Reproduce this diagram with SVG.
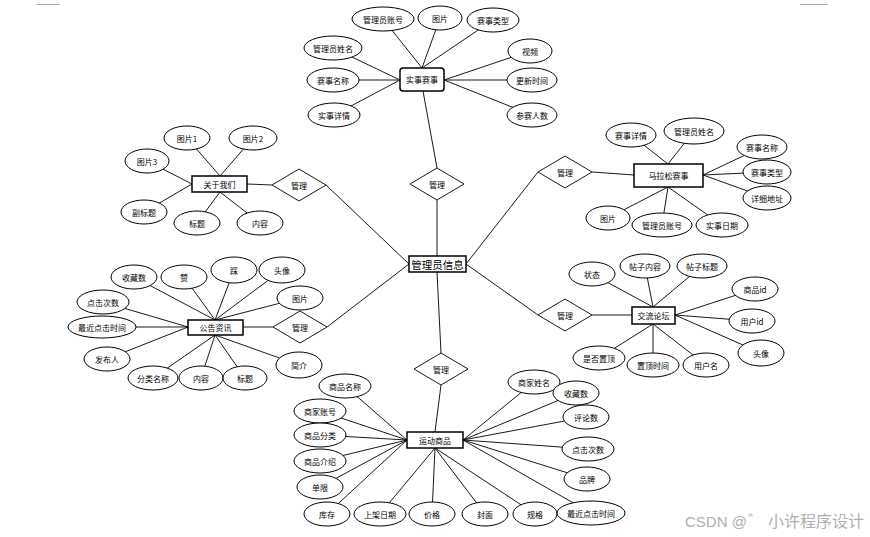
<svg xmlns="http://www.w3.org/2000/svg" width="870" height="537" viewBox="0 0 870 537">
<style>
.bg{fill:#fff}
.ln{stroke:#000;stroke-width:0.9;fill:none}
.e{fill:#fff;stroke:#000;stroke-width:1}
.r{fill:#fff;stroke:#000;stroke-width:1.5}
.d{fill:#fff;stroke:#000;stroke-width:0.9}
.t{font-family:"Noto Sans CJK SC","Noto Sans",sans-serif;font-size:8px;text-anchor:middle;dominant-baseline:central;fill:#000}
.big{font-size:10.5px}
.mk{stroke:#aaa;stroke-width:1}
.wm{font-family:"Liberation Sans","Noto Sans CJK SC",sans-serif;font-size:15px;fill:#b0b0b0}
.wc{font-family:"Noto Sans CJK SC",sans-serif;font-size:16px;fill:#b0b0b0}
</style>
<rect class="bg" x="0" y="0" width="870" height="537"/>
<line class="mk" x1="37" y1="4.5" x2="60" y2="4.5"/>
<line class="mk" x1="800" y1="4.5" x2="828" y2="4.5"/>

<g id="connectors">
<line class="ln" x1="423" y1="91" x2="437" y2="168"/>
<line class="ln" x1="437" y1="200" x2="437" y2="256"/>
<line class="ln" x1="409" y1="264" x2="326" y2="185"/>
<line class="ln" x1="272" y1="185" x2="247" y2="184"/>
<line class="ln" x1="409" y1="264" x2="327" y2="327"/>
<line class="ln" x1="273" y1="327" x2="243" y2="327"/>
<line class="ln" x1="466" y1="264" x2="538" y2="172"/>
<line class="ln" x1="592" y1="172" x2="634" y2="175"/>
<line class="ln" x1="466" y1="264" x2="538" y2="315"/>
<line class="ln" x1="592" y1="315" x2="632" y2="315"/>
<line class="ln" x1="437" y1="272" x2="441" y2="353"/>
<line class="ln" x1="441" y1="385" x2="435" y2="432"/>
<line class="ln" x1="422" y1="68" x2="383" y2="19"/>
<line class="ln" x1="422" y1="68" x2="440" y2="18"/>
<line class="ln" x1="422" y1="68" x2="493" y2="20"/>
<line class="ln" x1="400" y1="80" x2="333" y2="48"/>
<line class="ln" x1="400" y1="80" x2="333" y2="80"/>
<line class="ln" x1="400" y1="80" x2="334" y2="115"/>
<line class="ln" x1="444" y1="80" x2="530" y2="51"/>
<line class="ln" x1="444" y1="80" x2="532" y2="80"/>
<line class="ln" x1="444" y1="80" x2="532" y2="115"/>
<line class="ln" x1="220" y1="176" x2="187" y2="138"/>
<line class="ln" x1="220" y1="176" x2="253" y2="138"/>
<line class="ln" x1="192" y1="184" x2="147" y2="161"/>
<line class="ln" x1="192" y1="184" x2="144" y2="212"/>
<line class="ln" x1="220" y1="192" x2="197" y2="223"/>
<line class="ln" x1="220" y1="192" x2="260" y2="223"/>
<line class="ln" x1="668" y1="164" x2="631" y2="135"/>
<line class="ln" x1="668" y1="164" x2="694" y2="131"/>
<line class="ln" x1="703" y1="175" x2="762" y2="147"/>
<line class="ln" x1="703" y1="175" x2="767" y2="172"/>
<line class="ln" x1="703" y1="175" x2="767" y2="198"/>
<line class="ln" x1="668" y1="187" x2="608" y2="218"/>
<line class="ln" x1="668" y1="187" x2="662" y2="225"/>
<line class="ln" x1="668" y1="187" x2="722" y2="225"/>
<line class="ln" x1="215" y1="320" x2="134" y2="277"/>
<line class="ln" x1="215" y1="320" x2="184" y2="277"/>
<line class="ln" x1="215" y1="320" x2="234" y2="270"/>
<line class="ln" x1="215" y1="320" x2="282" y2="270"/>
<line class="ln" x1="215" y1="320" x2="300" y2="298"/>
<line class="ln" x1="188" y1="327" x2="103" y2="302"/>
<line class="ln" x1="188" y1="327" x2="102" y2="327"/>
<line class="ln" x1="188" y1="327" x2="107" y2="359"/>
<line class="ln" x1="215" y1="335" x2="153" y2="378"/>
<line class="ln" x1="215" y1="335" x2="201" y2="378"/>
<line class="ln" x1="215" y1="335" x2="245" y2="378"/>
<line class="ln" x1="215" y1="335" x2="299" y2="365"/>
<line class="ln" x1="653" y1="307" x2="592" y2="274"/>
<line class="ln" x1="653" y1="307" x2="645" y2="266"/>
<line class="ln" x1="653" y1="307" x2="702" y2="266"/>
<line class="ln" x1="675" y1="315" x2="755" y2="289"/>
<line class="ln" x1="675" y1="315" x2="752" y2="321"/>
<line class="ln" x1="675" y1="315" x2="761" y2="353"/>
<line class="ln" x1="653" y1="324" x2="599" y2="358"/>
<line class="ln" x1="653" y1="324" x2="653" y2="365"/>
<line class="ln" x1="653" y1="324" x2="706" y2="365"/>
<line class="ln" x1="407" y1="440" x2="345" y2="386"/>
<line class="ln" x1="407" y1="440" x2="320" y2="411"/>
<line class="ln" x1="407" y1="440" x2="320" y2="435"/>
<line class="ln" x1="407" y1="440" x2="320" y2="461"/>
<line class="ln" x1="407" y1="440" x2="320" y2="487"/>
<line class="ln" x1="407" y1="440" x2="327" y2="514"/>
<line class="ln" x1="435" y1="448" x2="380" y2="514"/>
<line class="ln" x1="435" y1="448" x2="432" y2="514"/>
<line class="ln" x1="435" y1="448" x2="485" y2="514"/>
<line class="ln" x1="435" y1="448" x2="535" y2="514"/>
<line class="ln" x1="463" y1="440" x2="534" y2="382"/>
<line class="ln" x1="463" y1="440" x2="576" y2="393"/>
<line class="ln" x1="463" y1="440" x2="586" y2="417"/>
<line class="ln" x1="463" y1="440" x2="588" y2="449"/>
<line class="ln" x1="463" y1="440" x2="587" y2="479"/>
<line class="ln" x1="463" y1="440" x2="591" y2="513"/>
</g>

<g id="admin"><rect class="r" x="409" y="256" width="57" height="16"/><text class="t big" x="437.5" y="264">管理员信息</text></g>

<g id="rel1"><polygon class="d" points="410,184 437,168 464,184 437,200"/><text class="t" x="437" y="184">管理</text></g>
<g id="rel2"><polygon class="d" points="272,185 299,169 326,185 299,201"/><text class="t" x="299" y="185">管理</text></g>
<g id="rel3"><polygon class="d" points="538,172 565,156 592,172 565,188"/><text class="t" x="565" y="172">管理</text></g>
<g id="rel4"><polygon class="d" points="273,327 300,311 327,327 300,343"/><text class="t" x="300" y="327">管理</text></g>
<g id="rel5"><polygon class="d" points="538,315 565,299 592,315 565,331"/><text class="t" x="565" y="315">管理</text></g>
<g id="rel6"><polygon class="d" points="414,369 441,353 468,369 441,385"/><text class="t" x="441" y="369">管理</text></g>

<g id="e1"><rect class="r" x="400" y="68" width="44" height="23" rx="3"/><text class="t" x="422" y="79.5">实事赛事</text></g>
<g id="e2"><rect class="r" x="192" y="176" width="55" height="16"/><text class="t" x="219.5" y="184">关于我们</text></g>
<g id="e3"><rect class="r" x="634" y="164" width="69" height="23"/><text class="t" x="668.5" y="175.5">马拉松赛事</text></g>
<g id="e4"><rect class="r" x="188" y="320" width="55" height="15"/><text class="t" x="215.5" y="327.5">公告资讯</text></g>
<g id="e5"><rect class="r" x="632" y="307" width="43" height="17"/><text class="t" x="653.5" y="315.5">交流论坛</text></g>
<g id="e6"><rect class="r" x="407" y="432" width="56" height="16"/><text class="t" x="435" y="440">运动商品</text></g>

<g id="a1_1"><ellipse class="e" cx="383" cy="19" rx="31" ry="12"/><text class="t" x="383" y="19">管理员账号</text></g>
<g id="a1_2"><ellipse class="e" cx="440" cy="18" rx="22" ry="12"/><text class="t" x="440" y="18">图片</text></g>
<g id="a1_3"><ellipse class="e" cx="493" cy="20" rx="26" ry="12"/><text class="t" x="493" y="20">赛事类型</text></g>
<g id="a1_4"><ellipse class="e" cx="333" cy="48" rx="29" ry="12"/><text class="t" x="333" y="48">管理员姓名</text></g>
<g id="a1_5"><ellipse class="e" cx="333" cy="80" rx="26" ry="12"/><text class="t" x="333" y="80">赛事名称</text></g>
<g id="a1_6"><ellipse class="e" cx="334" cy="115" rx="26" ry="12"/><text class="t" x="334" y="115">实事详情</text></g>
<g id="a1_7"><ellipse class="e" cx="530" cy="51" rx="22" ry="12"/><text class="t" x="530" y="51">视频</text></g>
<g id="a1_8"><ellipse class="e" cx="532" cy="80" rx="25" ry="12"/><text class="t" x="532" y="80">更新时间</text></g>
<g id="a1_9"><ellipse class="e" cx="532" cy="115" rx="25" ry="12"/><text class="t" x="532" y="115">参赛人数</text></g>

<g id="a2_1"><ellipse class="e" cx="187" cy="138" rx="23" ry="12"/><text class="t" x="187" y="138">图片1</text></g>
<g id="a2_2"><ellipse class="e" cx="253" cy="138" rx="24" ry="12"/><text class="t" x="253" y="138">图片2</text></g>
<g id="a2_3"><ellipse class="e" cx="147" cy="161" rx="22" ry="12"/><text class="t" x="147" y="161">图片3</text></g>
<g id="a2_4"><ellipse class="e" cx="144" cy="212" rx="23" ry="12"/><text class="t" x="144" y="212">副标题</text></g>
<g id="a2_5"><ellipse class="e" cx="197" cy="223" rx="23" ry="12"/><text class="t" x="197" y="223">标题</text></g>
<g id="a2_6"><ellipse class="e" cx="260" cy="223" rx="23" ry="12"/><text class="t" x="260" y="223">内容</text></g>

<g id="a3_1"><ellipse class="e" cx="631" cy="135" rx="25" ry="12"/><text class="t" x="631" y="135">赛事详情</text></g>
<g id="a3_2"><ellipse class="e" cx="694" cy="131" rx="30" ry="13"/><text class="t" x="694" y="131">管理员姓名</text></g>
<g id="a3_3"><ellipse class="e" cx="762" cy="147" rx="25" ry="12"/><text class="t" x="762" y="147">赛事名称</text></g>
<g id="a3_4"><ellipse class="e" cx="767" cy="172" rx="24" ry="12"/><text class="t" x="767" y="172">赛事类型</text></g>
<g id="a3_5"><ellipse class="e" cx="767" cy="198" rx="24" ry="12"/><text class="t" x="767" y="198">详细地址</text></g>
<g id="a3_6"><ellipse class="e" cx="608" cy="218" rx="22" ry="12"/><text class="t" x="608" y="218">图片</text></g>
<g id="a3_7"><ellipse class="e" cx="662" cy="225" rx="30" ry="12"/><text class="t" x="662" y="225">管理员账号</text></g>
<g id="a3_8"><ellipse class="e" cx="722" cy="225" rx="26" ry="12"/><text class="t" x="722" y="225">实事日期</text></g>

<g id="a4_1"><ellipse class="e" cx="134" cy="277" rx="23" ry="12"/><text class="t" x="134" y="277">收藏数</text></g>
<g id="a4_2"><ellipse class="e" cx="184" cy="277" rx="23" ry="12"/><text class="t" x="184" y="277">赞</text></g>
<g id="a4_3"><ellipse class="e" cx="234" cy="270" rx="23" ry="13"/><text class="t" x="234" y="270">踩</text></g>
<g id="a4_4"><ellipse class="e" cx="282" cy="270" rx="23" ry="13"/><text class="t" x="282" y="270">头像</text></g>
<g id="a4_5"><ellipse class="e" cx="300" cy="298" rx="23" ry="12"/><text class="t" x="300" y="298">图片</text></g>
<g id="a4_6"><ellipse class="e" cx="103" cy="302" rx="26" ry="12"/><text class="t" x="103" y="302">点击次数</text></g>
<g id="a4_7"><ellipse class="e" cx="102" cy="327" rx="34" ry="11"/><text class="t" x="102" y="327">最近点击时间</text></g>
<g id="a4_8"><ellipse class="e" cx="107" cy="359" rx="23" ry="12"/><text class="t" x="107" y="359">发布人</text></g>
<g id="a4_9"><ellipse class="e" cx="153" cy="378" rx="25" ry="12"/><text class="t" x="153" y="378">分类名称</text></g>
<g id="a4_10"><ellipse class="e" cx="201" cy="378" rx="22" ry="12"/><text class="t" x="201" y="378">内容</text></g>
<g id="a4_11"><ellipse class="e" cx="245" cy="378" rx="22" ry="12"/><text class="t" x="245" y="378">标题</text></g>
<g id="a4_12"><ellipse class="e" cx="299" cy="365" rx="23" ry="13"/><text class="t" x="299" y="365">简介</text></g>

<g id="a5_1"><ellipse class="e" cx="592" cy="274" rx="23" ry="12"/><text class="t" x="592" y="274">状态</text></g>
<g id="a5_2"><ellipse class="e" cx="645" cy="266" rx="25" ry="12"/><text class="t" x="645" y="266">帖子内容</text></g>
<g id="a5_3"><ellipse class="e" cx="702" cy="266" rx="25" ry="12"/><text class="t" x="702" y="266">帖子标题</text></g>
<g id="a5_4"><ellipse class="e" cx="755" cy="289" rx="23" ry="12"/><text class="t" x="755" y="289">商品id</text></g>
<g id="a5_5"><ellipse class="e" cx="752" cy="321" rx="23" ry="12"/><text class="t" x="752" y="321">用户id</text></g>
<g id="a5_6"><ellipse class="e" cx="761" cy="353" rx="23" ry="13"/><text class="t" x="761" y="353">头像</text></g>
<g id="a5_7"><ellipse class="e" cx="599" cy="358" rx="26" ry="12"/><text class="t" x="599" y="358">是否置顶</text></g>
<g id="a5_8"><ellipse class="e" cx="653" cy="365" rx="26" ry="12"/><text class="t" x="653" y="365">置顶时间</text></g>
<g id="a5_9"><ellipse class="e" cx="706" cy="365" rx="23" ry="12"/><text class="t" x="706" y="365">用户名</text></g>

<g id="a6_1"><ellipse class="e" cx="345" cy="386" rx="26" ry="12"/><text class="t" x="345" y="386">商品名称</text></g>
<g id="a6_2"><ellipse class="e" cx="320" cy="411" rx="26" ry="12"/><text class="t" x="320" y="411">商家账号</text></g>
<g id="a6_3"><ellipse class="e" cx="320" cy="435" rx="26" ry="12"/><text class="t" x="320" y="435">商品分类</text></g>
<g id="a6_4"><ellipse class="e" cx="320" cy="461" rx="26" ry="12"/><text class="t" x="320" y="461">商品介绍</text></g>
<g id="a6_5"><ellipse class="e" cx="320" cy="487" rx="23" ry="12"/><text class="t" x="320" y="487">单限</text></g>
<g id="a6_6"><ellipse class="e" cx="327" cy="514" rx="23" ry="12"/><text class="t" x="327" y="514">库存</text></g>
<g id="a6_7"><ellipse class="e" cx="380" cy="514" rx="26" ry="12"/><text class="t" x="380" y="514">上架日期</text></g>
<g id="a6_8"><ellipse class="e" cx="432" cy="514" rx="23" ry="12"/><text class="t" x="432" y="514">价格</text></g>
<g id="a6_9"><ellipse class="e" cx="485" cy="514" rx="23" ry="12"/><text class="t" x="485" y="514">封面</text></g>
<g id="a6_10"><ellipse class="e" cx="535" cy="514" rx="22" ry="12"/><text class="t" x="535" y="514">规格</text></g>
<g id="a6_11"><ellipse class="e" cx="534" cy="382" rx="26" ry="12"/><text class="t" x="534" y="382">商家姓名</text></g>
<g id="a6_12"><ellipse class="e" cx="576" cy="393" rx="23" ry="12"/><text class="t" x="576" y="393">收藏数</text></g>
<g id="a6_13"><ellipse class="e" cx="586" cy="417" rx="23" ry="12"/><text class="t" x="586" y="417">评论数</text></g>
<g id="a6_14"><ellipse class="e" cx="588" cy="449" rx="26" ry="12"/><text class="t" x="588" y="449">点击次数</text></g>
<g id="a6_15"><ellipse class="e" cx="587" cy="479" rx="23" ry="12"/><text class="t" x="587" y="479">品牌</text></g>
<g id="a6_16"><ellipse class="e" cx="591" cy="513" rx="34" ry="12"/><text class="t" x="591" y="513">最近点击时间</text></g>

<text class="wm" x="685" y="527">CSDN @</text>
<text class="wc" x="748" y="527">゛</text>
<text class="wc" x="768" y="527">小许程序设计</text>
</svg>
